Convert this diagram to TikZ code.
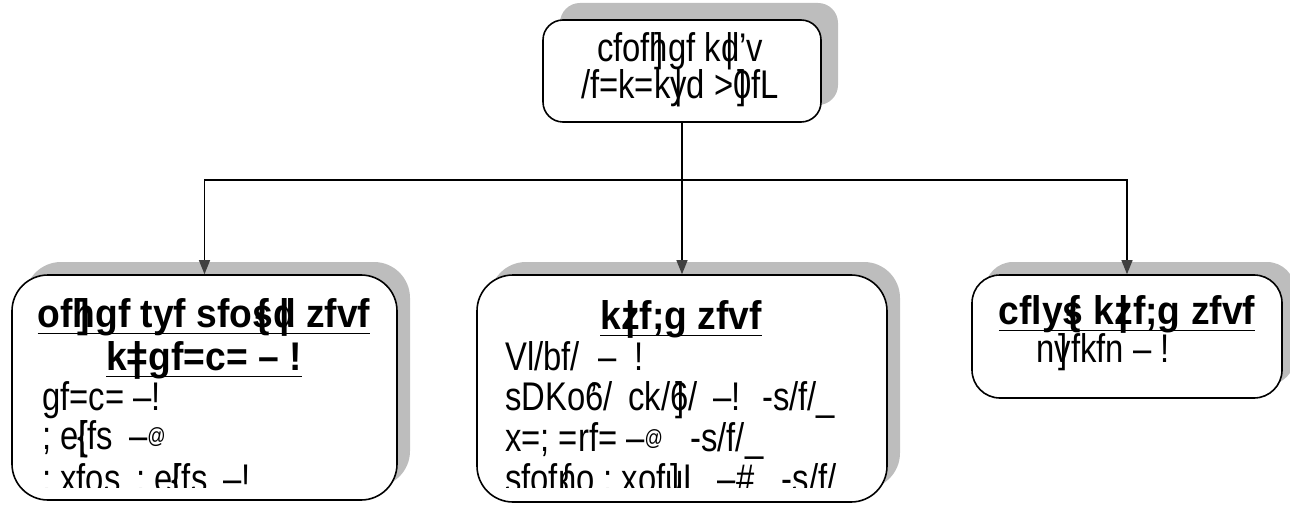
\documentclass[tikz,border=0pt]{standalone}
\usepackage{fontspec}
\setmainfont{Liberation Sans}[FakeStretch=0.82, BoldFeatures={FakeStretch=0.93}]
\usetikzlibrary{arrows.meta,shadows}
\definecolor{shadowgray}{HTML}{BDBDBD}
\definecolor{tipgray}{HTML}{404040}
\newcommand\ovl[2]{{\ooalign{#1\cr\hidewidth#2\hidewidth\cr}}}
\newsavebox\ulbox
\newcommand\ulx[1]{\sbox\ulbox{#1}\rlap{\rule[-7pt]{\wd\ulbox}{1.5pt}}\usebox\ulbox}
\newcommand\qt{{\char"27}}
\newcommand\smat{\raisebox{6pt}{\fontsize{22}{22}\selectfont @}}
\begin{document}
\begin{tikzpicture}[x=1pt,y=-1pt,
  box/.style={draw=black, line width=1.6pt, fill=white, inner sep=0pt},
  shad/.style={drop shadow={shadow xshift=#1, shadow yshift=#1, fill=shadowgray, opacity=1}},
  txt/.style={inner sep=0pt, font=\fontsize{40}{44}\selectfont},
  btxt/.style={txt, font=\fontsize{40}{44}\selectfont\bfseries},
  conn/.style={line width=1.2pt, draw=black},
  arr/.style={conn, -{Triangle[length=14pt,width=11pt,color=tipgray]}}]
\useasboundingbox (0,0) rectangle (1290,513);
% boxes
\node[box, shad=17pt, rounded corners=20pt, minimum width=278pt, minimum height=102pt] (top) at (682,71) {};
\node[box, shad=13pt, rounded corners=36pt, minimum width=385pt, minimum height=225pt] (lb) at (204.5,387.5) {};
\node[box, shad=13pt, rounded corners=36pt, minimum width=410pt, minimum height=227pt] (mb) at (682,388.5) {};
\node[box, shad=13pt, rounded corners=28pt, minimum width=310pt, minimum height=123pt] (rb) at (1127,336.5) {};
% connectors
\coordinate (j) at (682,180);
\draw[conn] (top.south) -- (j);
\draw[arr] (j) -| (lb.north);
\draw[arr] (j) -- (mb.north);
\draw[arr] (j) -| (rb.north);
% top text
\node[txt, anchor=base] (t1) at (680,62) {cfof\ovl{h}{]}gf k\ovl{d}{|}\qt v};
\node[txt, anchor=base] (t2) at (680,99) {/f=k=k\ovl{y}{|}d >\ovl{0}{]}fL};
% left box text
\node[btxt, anchor=base] (l1) at (204,327) {\ulx{of\ovl{h}{]}gf tyf sfo\ovl{s}{\{}\ovl{d}{|} zfvf}};
\node[btxt, anchor=base] (l2) at (204,370) {\ulx{k\ovl{=}{|}gf=c= – !}};
\node[txt, anchor=base west] (l3) at (42,410) {gf=c= –!};
\node[txt, anchor=base west] (l4) at (42,449) {; e\ovl{[}{\{}fs \,–\smat};
\begin{scope}
\clip (0,0) rectangle (1290,487);
\node[txt, anchor=base west] (l5) at (42,492) {; xfos \,; e\ovl{[}{\{}fs \,–!};
\node[txt, anchor=base west] (m5) at (505,492) {sfof\ovl{n}{\{}o ; xof\ovl{u}{]}L \,–\#\ \ \ -s/f/};
\end{scope}
% middle box text
\node[btxt, anchor=base] (m1) at (681,329) {\ulx{k\ovl{z}{|}f;g zfvf}};
\node[txt, anchor=base west] (m2) at (505,370) {Vl/bf/ \ – \ !};
\node[txt, anchor=base west] (m3) at (505,410) {sDKo\ovl{6}{\qt}/ \,ck/\ovl{6}{]}/ \,–! \ -s/f/\_};
\node[txt, anchor=base west] (m4) at (505,451) {x=; =rf= –\smat\ \ \ -s/f/\_};
% right box text
\node[btxt, anchor=base] (r1) at (1127,324) {\ulx{cfly\ovl{s}{\{} k\ovl{z}{|}f;g zfvf}};
\node[txt, anchor=base] (r2) at (1103,362) {n\ovl{v}{]}fkfn – !};
\end{tikzpicture}
\end{document}
